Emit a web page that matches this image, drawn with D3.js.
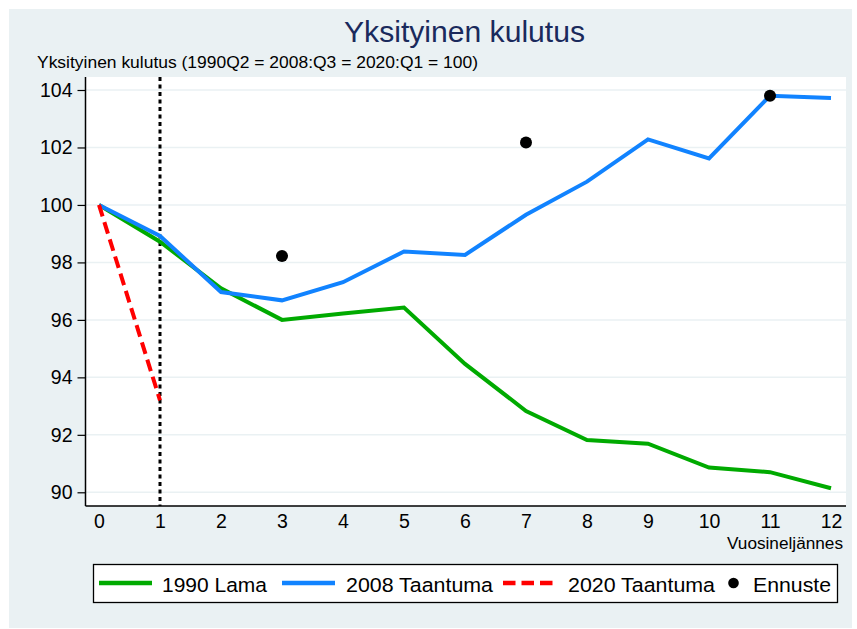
<!DOCTYPE html>
<html>
<head>
<meta charset="utf-8">
<script src="https://cdn.jsdelivr.net/npm/d3@7"></script>
<style>
  body { margin: 0; background: #fff; }
  text { font-family: "Liberation Sans", Arial, sans-serif; }
</style>
</head>
<body>
<div id="chart"></div>
<script>
// data
var quarters = [0, 1, 2, 3, 4, 5, 6, 7, 8, 9, 10, 11, 12];
var lama1990 = [100, 98.72, 97.1, 96.0, 96.22, 96.43, 94.47, 92.83, 91.82, 91.69, 90.86, 90.7, 90.14];
var taantuma2008 = [100, 98.92, 96.97, 96.68, 97.31, 98.38, 98.26, 99.66, 100.81, 102.28, 101.62, 103.8, 103.72];
var taantuma2020 = [100, 93.2];
var ennusteX = [3, 7, 11];
var ennusteY = [98.22, 102.17, 103.8];
var yTicks = [90, 92, 94, 96, 98, 100, 102, 104];
var seriesNames = ["1990 Lama", "2008 Taantuma", "2020 Taantuma", "Ennuste"];

var width = 857, height = 629;
var plot = {left: 85.5, right: 846, top: 77, bottom: 506};

var svg = d3.select("#chart")
  .append("svg")
    .attr("width", width)
    .attr("height", height);

// outer graph region
svg.append("rect")
    .attr("x", 9).attr("y", 9)
    .attr("width", 843).attr("height", 619)
    .attr("fill", "#eaf1f3");

svg.append("rect")
    .attr("x", plot.left).attr("y", plot.top)
    .attr("width", plot.right - plot.left)
    .attr("height", plot.bottom - plot.top)
    .attr("fill", "#fff");

var x = d3.scaleLinear()
  .domain([0, 12])
  .range([99, 831]);

var y = d3.scaleLinear()
  .domain([90, 104])
  .range([492.3, 90]);

// grid
svg.append("g")
  .selectAll("line")
  .data(yTicks)
  .enter()
  .append("line")
    .attr("x1", plot.left)
    .attr("x2", plot.right)
    .attr("y1", function(d) { return y(d); })
    .attr("y2", function(d) { return y(d); })
    .attr("stroke", "#eaf1f3")
    .attr("stroke-width", 1.5);

// axes
var yAxis = svg.append("g")
  .attr("transform", "translate(" + plot.left + ",0)")
  .call(d3.axisLeft(y).tickValues(yTicks).tickSize(8).tickSizeOuter(0).tickPadding(5));
yAxis.select(".domain").remove();
yAxis.selectAll("line").attr("stroke", "#000").attr("stroke-width", 1.2);
yAxis.selectAll("text")
    .style("font-size", "19.5px")
    .attr("fill", "#000")
    .attr("font-family", "Liberation Sans, Arial, sans-serif");

svg.append("line")
    .attr("x1", plot.left).attr("x2", plot.left)
    .attr("y1", plot.top).attr("y2", plot.bottom)
    .attr("stroke", "#000").attr("stroke-width", 1.5);

var xAxis = svg.append("g")
  .attr("transform", "translate(0," + plot.bottom + ")")
  .call(d3.axisBottom(x).tickValues(quarters).tickSize(0).tickPadding(8));
xAxis.select(".domain").remove();
xAxis.selectAll("text")
    .style("font-size", "19.5px")
    .attr("fill", "#000")
    .attr("font-family", "Liberation Sans, Arial, sans-serif");

svg.append("line")
    .attr("x1", plot.left).attr("x2", plot.right)
    .attr("y1", plot.bottom).attr("y2", plot.bottom)
    .attr("stroke", "#000").attr("stroke-width", 1.5);

svg.append("text")
    .attr("x", 843)
    .attr("y", 549)
    .attr("text-anchor", "end")
    .style("font-size", "16px")
    .attr("textLength", 116)
    .attr("lengthAdjust", "spacingAndGlyphs")
    .text("Vuosineljännes");

// titles
svg.append("text")
    .attr("x", 344)
    .attr("y", 42)
    .attr("fill", "#1a2a5c")
    .style("font-size", "29px")
    .attr("textLength", 241)
    .attr("lengthAdjust", "spacingAndGlyphs")
    .text("Yksityinen kulutus");

svg.append("text")
    .attr("x", 37)
    .attr("y", 68)
    .style("font-size", "16.8px")
    .attr("textLength", 441)
    .attr("lengthAdjust", "spacingAndGlyphs")
    .text("Yksityinen kulutus (1990Q2 = 2008:Q3 = 2020:Q1 = 100)");

// vertical marker at quarter 1
svg.append("line")
    .attr("x1", x(1)).attr("x2", x(1))
    .attr("y1", plot.top).attr("y2", plot.bottom)
    .attr("stroke", "#000")
    .attr("stroke-width", 3)
    .attr("stroke-dasharray", "4,3.5");

var line = d3.line()
  .x(function(d, i) { return x(quarters[i]); })
  .y(function(d) { return y(d); });

svg.append("path")
    .datum(lama1990)
    .attr("d", line)
    .attr("fill", "none")
    .attr("stroke", "#00aa00")
    .attr("stroke-width", 4);

svg.append("path")
    .datum(taantuma2008)
    .attr("d", line)
    .attr("fill", "none")
    .attr("stroke", "#1183ff")
    .attr("stroke-width", 4);

svg.append("path")
    .datum(taantuma2020)
    .attr("d", line)
    .attr("fill", "none")
    .attr("stroke", "#ff0000")
    .attr("stroke-width", 4)
    .attr("stroke-dasharray", "12,6");

svg.selectAll(".ennuste")
  .data(ennusteX)
  .enter()
  .append("circle")
    .attr("class", "ennuste")
    .attr("cx", function(d) { return x(d); })
    .attr("cy", function(d, i) { return y(ennusteY[i]); })
    .attr("r", 6)
    .attr("fill", "#000");

// legend
var legend = svg.append("g");
legend.append("rect")
    .attr("x", 93.5).attr("y", 564.5)
    .attr("width", 744).attr("height", 38)
    .attr("fill", "#fff")
    .attr("stroke", "#000")
    .attr("stroke-width", 1.3);

var legendItems = [
  {name: seriesNames[0], color: "#00aa00", x0: 99, x1: 152, tx: 162, tw: 105, dash: null},
  {name: seriesNames[1], color: "#1183ff", x0: 282, x1: 335, tx: 346, tw: 147, dash: null},
  {name: seriesNames[2], color: "#ff0000", x0: 503, x1: 553, tx: 568, tw: 147, dash: "12.5,6"}
];

legendItems.forEach(function(d) {
  legend.append("line")
      .attr("x1", d.x0).attr("x2", d.x1)
      .attr("y1", 583).attr("y2", 583)
      .attr("stroke", d.color)
      .attr("stroke-width", 4.5)
      .attr("stroke-dasharray", d.dash);
  legend.append("text")
      .attr("x", d.tx)
      .attr("y", 592)
      .style("font-size", "20.5px")
      .attr("textLength", d.tw)
      .attr("lengthAdjust", "spacingAndGlyphs")
      .text(d.name);
});

legend.append("circle")
    .attr("cx", 733.5).attr("cy", 583)
    .attr("r", 5.3)
    .attr("fill", "#000");
legend.append("text")
    .attr("x", 753)
    .attr("y", 592)
    .style("font-size", "20.5px")
    .attr("textLength", 78)
    .attr("lengthAdjust", "spacingAndGlyphs")
    .text(seriesNames[3]);
</script>
</body>
</html>
